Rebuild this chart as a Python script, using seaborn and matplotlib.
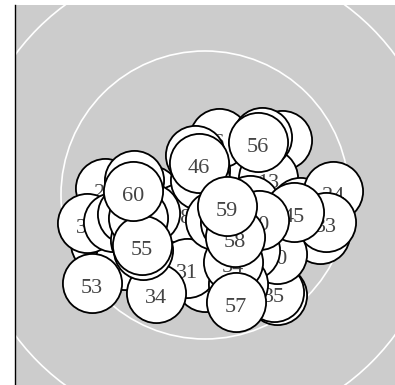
import matplotlib
matplotlib.use("Agg")
import matplotlib.pyplot as plt
from matplotlib.patches import Circle
import seaborn as sns
import pandas as pd

# Bubble labels, in drawing order (later bubbles sit on top)
labels = list(range(1, 61))
x_pos = [-15, 10, 45, -35, 35, 14, 15, 55, 77, -30,
         -105, -80, 63, 95, 72, -5, 45, 0, 5, -10,
         0, 115, -5, 128, -35, -55, -100, -25, -45, 57,
         -18, -118, 121, -49, 69, -92, -5, 10, 25, 72,
         -78, -65, 57, -55, 89, -6, -62, 45, 33, 54,
         -67, -71, -113, 28, -63, 53, 31, 30, 22, -72]
y_pos = [-35, -45, -50, -45, 5, 57, -70, -70, 55, -63,
         -48, -65, 17, -12, -100, 25, -10, -10, -55, 40,
         -87, -39, -43, 4, -20, 0, 7, -18, -75, -67,
         -73, -28, -27, -98, -97, -27, 15, -25, -27, -59,
         -19, -45, 58, -18, -17, 32, -55, -55, -89, -25,
         -23, 15, -88, -67, -50, 53, -107, -42, -11, 4]

# Radial guide rings
ring_radii = [144, 236]

df = pd.DataFrame({"label": labels, "x": x_pos, "y": y_pos})

sns.set_style("white")
plt.rcParams["font.family"] = ["Liberation Serif", "DejaVu Serif"]

fig = plt.figure(figsize=(3.95, 3.85), dpi=100)
ax = fig.add_axes([15 / 395, 0, 380 / 395, 380 / 385])
ax.set_facecolor("#cccccc")
ax.set_xlim(-190, 190)
ax.set_ylim(-190, 190)
ax.set_aspect("equal")
ax.set_xticks([])
ax.set_yticks([])
for side in ("top", "right", "bottom"):
    ax.spines[side].set_visible(False)
ax.spines["left"].set_color("black")
ax.spines["left"].set_linewidth(1.0)

for r in ring_radii:
    ax.add_patch(Circle((0, 0), r, fill=False, edgecolor="white",
                        linewidth=1.2, zorder=1))

marker_area = 42.6 ** 2
for i, row in df.iterrows():
    z = 3 + 2 * i
    sns.scatterplot(x=[row["x"]], y=[row["y"]], s=marker_area, color="white",
                    edgecolor="black", linewidth=1.3, zorder=z, ax=ax,
                    legend=False, clip_on=False)
    ax.annotate(str(row["label"]), (row["x"], row["y"]),
                xytext=(0, -7.5), textcoords="offset points",
                ha="center", va="baseline", fontsize=16, color="#444444",
                zorder=z + 1)

fig.savefig("out.png", dpi=100)
